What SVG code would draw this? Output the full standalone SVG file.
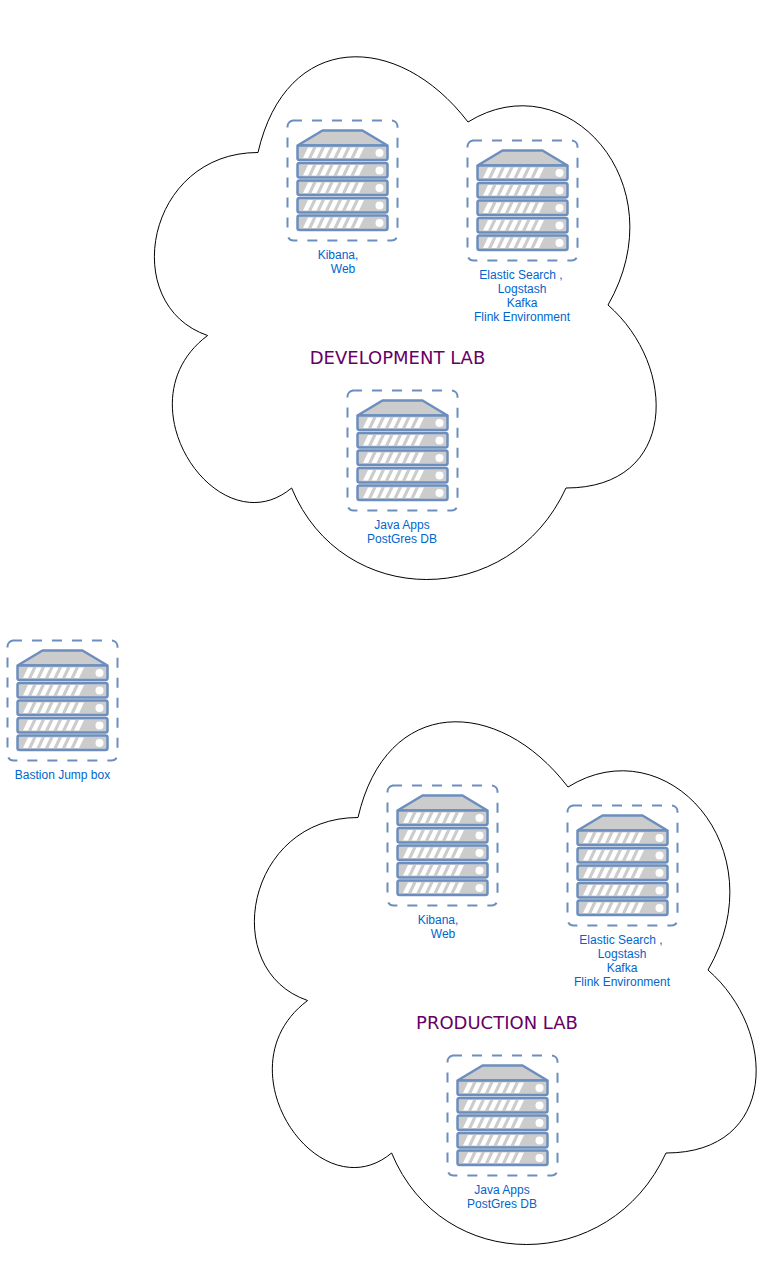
<svg xmlns="http://www.w3.org/2000/svg" width="778" height="1277" viewBox="0 0 778 1277">
<style>
.cloud{fill:#fff;stroke:#000;stroke-width:1}
.frame{fill:none;stroke:#6c8ebf;stroke-width:2;stroke-dasharray:10 10}
.unit{fill:#ccc;stroke:#6c8ebf;stroke-width:2.5;stroke-linejoin:round}
.stripe{fill:#fff}
.led{fill:#fff}
.lbl{font:12px "Liberation Sans",Arial,sans-serif;fill:#0066cc;text-anchor:middle}
.title{font:18px "DejaVu Sans",Verdana,sans-serif;fill:#660066;text-anchor:middle}
</style>
<defs>
<g id="row">
<rect class="unit" x="297.500" y="0" width="90" height="14.500" rx="2"/>
<path class="stripe" d="M303 12.500L308 2H313L308 12.500ZM311.500 12.500L316.500 2H321.500L316.500 12.500ZM320 12.500L325 2H330L325 12.500ZM328.500 12.500L333.500 2H338.500L333.500 12.500ZM337 12.500L342 2H347L342 12.500ZM345.500 12.500L350.500 2H355.500L350.500 12.500ZM354 12.500L359 2H364L359 12.500Z"/>
<circle class="led" cx="379.500" cy="7.500" r="4"/>
</g>
<g id="server">
<path class="frame" d="M292 120.500H391.500A6 6 0 0 1 397.500 126.500V234.500A6 6 0 0 1 391.500 240.500H293.500A6 6 0 0 1 287.500 234.500V126.500A6 6 0 0 1 293.500 120.500"/>
<path class="unit" d="M297.500 145.500L322.500 130.500H362.500L387.500 145.500Z"/>
<use href="#row" y="145.500"/>
<use href="#row" y="163"/>
<use href="#row" y="180.500"/>
<use href="#row" y="198"/>
<use href="#row" y="215.500"/>
</g>
</defs>
<g id="connectors"/>
<g id="cloud-dev"><path class="cloud" d="M258 152.500C146 152.500 118 305 207.600 335.500C118 402.600 218.800 549 291.600 488C342 610 510 610 566 488C678 488 678 366 608 305C678 183 566 61 468 122C398 30.500 286 30.500 258 152.500Z"/></g>
<g id="cloud-prod"><path class="cloud" d="M358 817.500C246 817.500 218 970 307.600 1000.500C218 1067.600 318.800 1214 391.600 1153C442 1275 610 1275 666 1153C778 1153 778 1031 708 970C778 848 666 726 568 787C498 695.500 386 695.500 358 817.500Z"/></g>
<g id="dev-kibana"><use href="#server"/><text class="lbl" x="338" y="259">Kibana,</text><text class="lbl" x="343" y="273">Web</text></g>
<g id="dev-elastic"><use href="#server" x="180" y="20"/><text class="lbl" x="521" y="279">Elastic Search ,</text><text class="lbl" x="522" y="293">Logstash</text><text class="lbl" x="522" y="307">Kafka</text><text class="lbl" x="522" y="321">Flink Environment</text></g>
<g id="dev-java"><use href="#server" x="60" y="270"/><text class="lbl" x="402" y="529">Java Apps</text><text class="lbl" x="402" y="543">PostGres DB</text></g>
<g id="dev-title"><text class="title" x="397.500" y="364">DEVELOPMENT LAB</text></g>
<g id="bastion"><use href="#server" x="-280" y="520"/><text class="lbl" x="62.500" y="779">Bastion Jump box</text></g>
<g id="prod-kibana"><use href="#server" x="100" y="665"/><text class="lbl" x="438" y="924">Kibana,</text><text class="lbl" x="443" y="938">Web</text></g>
<g id="prod-elastic"><use href="#server" x="280" y="685"/><text class="lbl" x="621" y="944">Elastic Search ,</text><text class="lbl" x="622" y="958">Logstash</text><text class="lbl" x="622" y="972">Kafka</text><text class="lbl" x="622" y="986">Flink Environment</text></g>
<g id="prod-java"><use href="#server" x="160" y="935"/><text class="lbl" x="502" y="1194">Java Apps</text><text class="lbl" x="502" y="1208">PostGres DB</text></g>
<g id="prod-title"><text class="title" x="497" y="1029">PRODUCTION LAB</text></g>
</svg>
